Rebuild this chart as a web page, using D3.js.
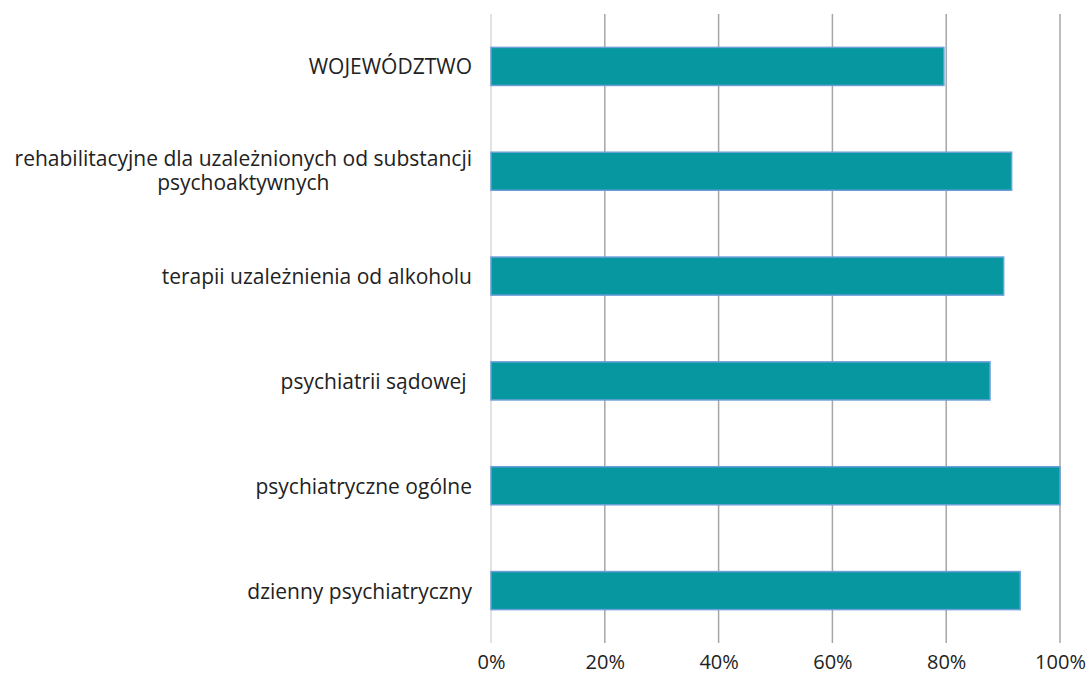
<!DOCTYPE html>
<html>
<head>
<meta charset="utf-8">
<script src="https://cdn.jsdelivr.net/npm/d3@7"></script>
<style>
  html, body { margin: 0; padding: 0; background: #fff; }
  svg { display: block; }
  text { font-family: "Open Sans", "Noto Sans", sans-serif; fill: #222; }
</style>
</head>
<body>
<svg id="chart" width="1088" height="679"></svg>
<script>
// Categories (top to bottom), each as one or more label lines
const categories = [
  ["WOJEWÓDZTWO"],
  ["rehabilitacyjne dla uzależnionych od substancji", "psychoaktywnych"],
  ["terapii uzależnienia od alkoholu"],
  ["psychiatrii sądowej "],
  ["psychiatryczne ogólne"],
  ["dzienny psychiatryczny"]
];
// Share per category, in percent
const values = [79.6, 91.5, 90.1, 87.7, 100, 93.0];
// Axis ticks
const tickValues = [0, 20, 40, 60, 80, 100];
const tickLabels = ["0%", "20%", "40%", "60%", "80%", "100%"];

const fontSize = "21px";
const tickFontSize = "20px";

const svg = d3.select("#chart");
const margin = { top: 14, right: 28, bottom: 36, left: 491 };
const width = 1088 - margin.left - margin.right;
const height = 679 - margin.top - margin.bottom;

const x = d3.scaleLinear().domain([0, 100]).range([0, width]);
const y = d3.scaleBand()
  .domain(d3.range(categories.length))
  .range([0, height])
  .paddingInner(0.637)
  .paddingOuter(0.3185);

const g = svg.append("g").attr("transform", `translate(${margin.left},${margin.top})`);

// Vertical gridlines
g.selectAll("line.grid")
  .data(tickValues)
  .join("line")
  .attr("class", "grid")
  .attr("x1", d => x(d)).attr("x2", d => x(d))
  .attr("y1", 0).attr("y2", height)
  .attr("stroke", d => d === 0 ? "#d9d9d9" : "#a6a6a6")
  .attr("stroke-width", 1.5);

// Bars
g.selectAll("rect.bar")
  .data(values)
  .join("rect")
  .attr("class", "bar")
  .attr("x", x(0))
  .attr("y", (d, i) => y(i))
  .attr("width", d => x(d) - x(0))
  .attr("height", y.bandwidth())
  .attr("fill", "#0797a1")
  .attr("stroke", "#6a9fd8")
  .attr("stroke-width", 1.5);

// X axis tick labels
const xAxis = d3.axisBottom(x)
  .tickValues(tickValues)
  .tickFormat((d, i) => tickLabels[i])
  .tickSize(0)
  .tickPadding(12);
const xg = g.append("g").attr("transform", `translate(0,${height})`).call(xAxis);
xg.select(".domain").remove();
xg.selectAll("text")
  .style("font-size", tickFontSize)
  .style("font-family", "\"Open Sans\", \"Noto Sans\", sans-serif")
  .attr("fill", "#222");

// Category labels: single lines right-aligned, wrapped lines centered on their block
const labelRight = -19;
const lineH = 24;
const labels = g.selectAll("g.cat")
  .data(categories)
  .join("g")
  .attr("class", "cat")
  .attr("transform", (d, i) => `translate(0,${y(i) + y.bandwidth() / 2})`);

labels.each(function(lines) {
  const grp = d3.select(this);
  if (lines.length === 1) {
    grp.append("text")
      .style("font-size", fontSize)
      .style("white-space", "pre")
      .attr("dominant-baseline", "central")
      .attr("text-anchor", "end")
      .attr("x", labelRight)
      .text(lines[0]);
  } else {
    const tmp = grp.append("text").style("font-size", fontSize).text(lines[0]);
    const w = tmp.node().getComputedTextLength();
    tmp.remove();
    const cx = labelRight - w / 2;
    lines.forEach((ln, k) => {
      grp.append("text")
        .style("font-size", fontSize)
        .attr("text-anchor", "middle")
        .attr("x", cx)
        .attr("y", (k - (lines.length - 1) / 2) * lineH + 7)
        .text(ln);
    });
  }
});
</script>
</body>
</html>
